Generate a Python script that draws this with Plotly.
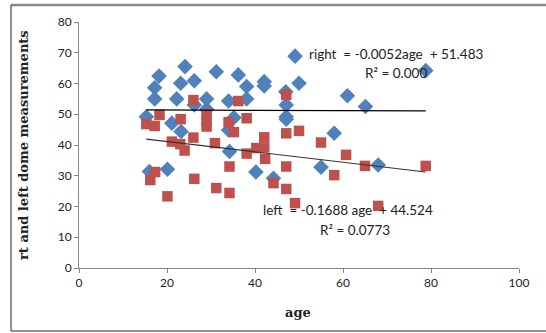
import plotly.graph_objects as go

# Right (blue diamonds)
right_age = [15.3, 17.2, 18.2, 17.2, 21.1, 22.2, 23.1, 24.1, 26.2, 26.2, 29.0, 31.2, 34.0, 36.2,
             38.1, 38.1, 42.1, 42.1, 49.1, 50.0, 47.0, 47.1, 47.1, 47.1, 35.2, 34.0, 23.2, 29.0,
             34.2, 16.0, 20.1, 40.2, 44.2, 55.0, 68.0, 61.0, 65.1, 58.0, 78.8]
right_val = [49.2, 58.6, 62.4, 55.0, 47.1, 55.0, 60.1, 65.5, 60.9, 53.0, 55.0, 63.8, 54.3, 62.8,
             59.0, 55.0, 60.6, 59.2, 68.9, 60.1, 57.3, 53.0, 49.2, 48.4, 48.9, 44.9, 44.4, 51.6,
             37.9, 31.4, 32.1, 31.2, 29.2, 32.8, 33.5, 56.0, 52.5, 43.8, 64.2]

# Left (red squares)
left_age = [15.3, 17.2, 18.3, 23.1, 26.0, 29.0, 29.0, 29.0, 34.0, 35.2, 36.2, 38.1, 47.1, 47.1,
            50.0, 26.0, 21.1, 23.0, 24.0, 30.9, 34.2, 16.2, 17.3, 26.2, 31.2, 34.2, 20.1, 55.0,
            60.7, 38.1, 40.3, 42.1, 42.1, 42.3, 47.1, 44.2, 47.1, 49.1, 58.0, 65.0, 78.8, 68.0]
left_val = [46.8, 46.2, 49.8, 48.4, 54.6, 50.0, 48.0, 46.0, 47.4, 44.2, 54.3, 48.7, 56.3, 43.8,
            44.6, 42.4, 41.1, 40.3, 38.2, 40.6, 33.0, 28.6, 31.2, 29.0, 26.0, 24.4, 23.3, 40.8,
            36.8, 37.2, 39.0, 42.5, 39.2, 35.5, 33.0, 27.6, 25.7, 21.1, 30.2, 33.2, 33.2, 20.2]

# Trend line coefficients (slope, intercept) shown on chart
right_fit = [-0.0052, 51.483]
left_fit = [-0.1688, 44.524]

x_ticks = [0, 20, 40, 60, 80, 100]
y_ticks = [0, 10, 20, 30, 40, 50, 60, 70, 80]

BLUE = "#4F81BD"
RED = "#C0504D"
FONT = "Lato"
TXT = "#222222"
TITLE_FONT = "DejaVu Serif"

# plot area in pixels
L, R, T, B = 79, 519, 22, 268
W, H = R - L, B - T


def px(x):
    return (x - L) / W


def py(y):
    return (B - y) / H


fig = go.Figure()
fig.add_trace(go.Scatter(x=right_age, y=right_val, mode="markers",
                         marker=dict(symbol="diamond", size=12, color=BLUE), name="right"))
fig.add_trace(go.Scatter(x=left_age, y=left_val, mode="markers",
                         marker=dict(symbol="square", size=10.5, color=RED), name="left"))

all_age = right_age + left_age
for fit, col in [(right_fit, "#000000"), (left_fit, "#333333")]:
    xs = [min(all_age), max(all_age)]
    ys = [fit[0] * v + fit[1] for v in xs]
    fig.add_trace(go.Scatter(x=xs, y=ys, mode="lines", line=dict(color=col, width=1.2),
                             showlegend=False, hoverinfo="skip"))

fig.update_layout(
    width=546, height=333,
    margin=dict(l=L, r=546 - R, t=T, b=333 - B, autoexpand=False),
    paper_bgcolor="white", plot_bgcolor="white",
    showlegend=False,
    font=dict(family=FONT, size=12, color=TXT),
    xaxis=dict(range=[0, 100], tickvals=x_ticks, showgrid=False, zeroline=False,
               showline=True, linecolor="#868686", linewidth=1, automargin=False,
               ticks="outside", ticklen=4, tickcolor="#868686",
               tickfont=dict(size=12, family=FONT, color=TXT)),
    yaxis=dict(range=[0, 80], tickvals=y_ticks, showgrid=False, zeroline=False,
               showline=True, linecolor="#868686", linewidth=1, automargin=False,
               ticks="outside", ticklen=4, tickcolor="#868686",
               tickfont=dict(size=12, family=FONT, color=TXT)),
)

# axis titles
fig.add_annotation(xref="paper", yref="paper", x=px(298), y=py(312), xanchor="center", yanchor="middle",
                   text="<b>age</b>", showarrow=False,
                   font=dict(size=13, family=TITLE_FONT, color=TXT))
fig.add_annotation(xref="paper", yref="paper", x=px(23), y=py(145), xanchor="center", yanchor="middle",
                   text="<b>rt and left dome measurements</b>", showarrow=False, textangle=-90,
                   font=dict(size=13, family=TITLE_FONT, color=TXT))

NB = "&nbsp;"
ann_font = dict(size=13.5, family=FONT, color=TXT)
fig.add_annotation(xref="paper", yref="paper", x=px(396), y=py(44), xanchor="center",
                   text=f"right {NB}= -0.0052age {NB}+ 51.483", showarrow=False, font=ann_font)
fig.add_annotation(xref="paper", yref="paper", x=px(396), y=py(63), xanchor="center",
                   text="R² = 0.000", showarrow=False, font=ann_font)
fig.add_annotation(xref="paper", yref="paper", x=px(348), y=py(220), xanchor="center",
                   text=f"left {NB}= -0.1688 age {NB}+ 44.524", showarrow=False, font=ann_font)
fig.add_annotation(xref="paper", yref="paper", x=px(355), y=py(240), xanchor="center",
                   text="R² = 0.0773", showarrow=False, font=ann_font)

# outer chart frame
fig.add_shape(type="line", xref="paper", yref="paper",
              x0=px(11), x1=px(560), y0=py(5), y1=py(5),
              line=dict(color="#888888", width=2.5))
fig.add_shape(type="line", xref="paper", yref="paper",
              x0=px(11), x1=px(11), y0=py(5), y1=py(331),
              line=dict(color="#222222", width=1))
fig.add_shape(type="line", xref="paper", yref="paper",
              x0=px(11), x1=px(560), y0=py(331), y1=py(331),
              line=dict(color="#222222", width=1))

fig.write_html("out.html", config={"displayModeBar": False},
               post_script="document.body.style.margin='0px';document.body.style.overflow='hidden';")
